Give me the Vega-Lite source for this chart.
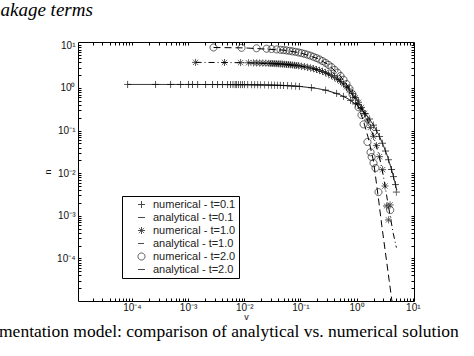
{
  "$schema": "https://vega.github.io/schema/vega-lite/v6.json",
  "width": 336,
  "height": 259,
  "autosize": "none",
  "padding": {"left": 78, "top": 42, "right": 60, "bottom": 55},
  "background": "white",
  "title": {"text": "mentation model: comparison of analytical vs. numerical solution", "orient": "bottom", "anchor": "start", "frame": "group", "dx": -79, "offset": 2, "font": "Liberation Serif", "fontSize": 17.5, "fontWeight": "normal", "color": "black", "baseline": "top"},
  "config": {
    "view": {"stroke": null},
    "axis": {"domainColor": "black", "tickColor": "black", "labelColor": "#111", "labelFont": "Liberation Sans", "labelFontSize": 10, "titleFont": "Liberation Sans", "titleFontSize": 9, "titleFontWeight": "normal", "titleColor": "#111", "grid": false, "tickSize": -3, "labelOverlap": false, "labelFlush": false},
    "legend": {"orient": "none", "legendX": 44, "legendY": 154, "padding": 3, "strokeColor": "black", "fillColor": "white", "symbolSize": 49, "symbolStrokeWidth": 1, "symbolStrokeColor": "black", "labelFont": "Liberation Sans", "labelFontSize": 11, "labelColor": "#222", "symbolOffset": 11, "labelOffset": 6, "rowPadding": 1}
  },
  "datasets": {
    "analytical": [
      {"v": 0.000084, "n": 1.21, "series": "analytical - t=0.1"},
      {"v": 0.001, "n": 1.2087, "series": "analytical - t=0.1"},
      {"v": 0.01, "n": 1.1968, "series": "analytical - t=0.1"},
      {"v": 0.05, "n": 1.145, "series": "analytical - t=0.1"},
      {"v": 0.1, "n": 1.084, "series": "analytical - t=0.1"},
      {"v": 0.2, "n": 0.971, "series": "analytical - t=0.1"},
      {"v": 0.3, "n": 0.87, "series": "analytical - t=0.1"},
      {"v": 0.5, "n": 0.698, "series": "analytical - t=0.1"},
      {"v": 0.7, "n": 0.56, "series": "analytical - t=0.1"},
      {"v": 1.0, "n": 0.403, "series": "analytical - t=0.1"},
      {"v": 1.3, "n": 0.2896, "series": "analytical - t=0.1"},
      {"v": 1.6, "n": 0.208, "series": "analytical - t=0.1"},
      {"v": 2.0, "n": 0.134, "series": "analytical - t=0.1"},
      {"v": 2.5, "n": 0.0774, "series": "analytical - t=0.1"},
      {"v": 3.0, "n": 0.0446, "series": "analytical - t=0.1"},
      {"v": 3.5, "n": 0.0258, "series": "analytical - t=0.1"},
      {"v": 4.0, "n": 0.01486, "series": "analytical - t=0.1"},
      {"v": 4.5, "n": 0.00857, "series": "analytical - t=0.1"},
      {"v": 5.0, "n": 0.00494, "series": "analytical - t=0.1"},
      {"v": 5.2, "n": 0.00397, "series": "analytical - t=0.1"},
      {"v": 0.00136, "n": 3.989, "series": "analytical - t=1.0"},
      {"v": 0.01, "n": 3.921, "series": "analytical - t=1.0"},
      {"v": 0.05, "n": 3.619, "series": "analytical - t=1.0"},
      {"v": 0.1, "n": 3.275, "series": "analytical - t=1.0"},
      {"v": 0.2, "n": 2.681, "series": "analytical - t=1.0"},
      {"v": 0.3, "n": 2.195, "series": "analytical - t=1.0"},
      {"v": 0.5, "n": 1.472, "series": "analytical - t=1.0"},
      {"v": 0.7, "n": 0.986, "series": "analytical - t=1.0"},
      {"v": 1.0, "n": 0.541, "series": "analytical - t=1.0"},
      {"v": 1.3, "n": 0.297, "series": "analytical - t=1.0"},
      {"v": 1.6, "n": 0.163, "series": "analytical - t=1.0"},
      {"v": 2.0, "n": 0.0733, "series": "analytical - t=1.0"},
      {"v": 2.5, "n": 0.027, "series": "analytical - t=1.0"},
      {"v": 3.0, "n": 0.0085, "series": "analytical - t=1.0"},
      {"v": 3.5, "n": 0.0025, "series": "analytical - t=1.0"},
      {"v": 4.0, "n": 0.0009, "series": "analytical - t=1.0"},
      {"v": 4.5, "n": 0.00038, "series": "analytical - t=1.0"},
      {"v": 5.1, "n": 0.00018, "series": "analytical - t=1.0"},
      {"v": 0.00284, "n": 8.92, "series": "analytical - t=2.0"},
      {"v": 0.01, "n": 8.73, "series": "analytical - t=2.0"},
      {"v": 0.05, "n": 7.75, "series": "analytical - t=2.0"},
      {"v": 0.1, "n": 6.67, "series": "analytical - t=2.0"},
      {"v": 0.2, "n": 4.94, "series": "analytical - t=2.0"},
      {"v": 0.3, "n": 3.66, "series": "analytical - t=2.0"},
      {"v": 0.5, "n": 2.0, "series": "analytical - t=2.0"},
      {"v": 0.7, "n": 1.1, "series": "analytical - t=2.0"},
      {"v": 1.0, "n": 0.448, "series": "analytical - t=2.0"},
      {"v": 1.3, "n": 0.18, "series": "analytical - t=2.0"},
      {"v": 1.6, "n": 0.07, "series": "analytical - t=2.0"},
      {"v": 2.0, "n": 0.019, "series": "analytical - t=2.0"},
      {"v": 2.45, "n": 0.0025, "series": "analytical - t=2.0"},
      {"v": 2.8, "n": 0.0006, "series": "analytical - t=2.0"},
      {"v": 3.3, "n": 0.00012, "series": "analytical - t=2.0"},
      {"v": 3.8, "n": 0.00003, "series": "analytical - t=2.0"},
      {"v": 4.25, "n": 0.00001, "series": "analytical - t=2.0"}
    ],
    "numerical": [
      {"v": 0.000084, "n": 1.21, "series": "numerical - t=0.1"},
      {"v": 0.000264, "n": 1.21, "series": "numerical - t=0.1"},
      {"v": 0.000489, "n": 1.209, "series": "numerical - t=0.1"},
      {"v": 0.000736, "n": 1.209, "series": "numerical - t=0.1"},
      {"v": 0.00102, "n": 1.209, "series": "numerical - t=0.1"},
      {"v": 0.0012, "n": 1.208, "series": "numerical - t=0.1"},
      {"v": 0.00148, "n": 1.208, "series": "numerical - t=0.1"},
      {"v": 0.00205, "n": 1.207, "series": "numerical - t=0.1"},
      {"v": 0.00273, "n": 1.206, "series": "numerical - t=0.1"},
      {"v": 0.00335, "n": 1.206, "series": "numerical - t=0.1"},
      {"v": 0.00411, "n": 1.205, "series": "numerical - t=0.1"},
      {"v": 0.00505, "n": 1.203, "series": "numerical - t=0.1"},
      {"v": 0.0057, "n": 1.202, "series": "numerical - t=0.1"},
      {"v": 0.0063, "n": 1.202, "series": "numerical - t=0.1"},
      {"v": 0.0069, "n": 1.201, "series": "numerical - t=0.1"},
      {"v": 0.0073, "n": 1.2, "series": "numerical - t=0.1"},
      {"v": 0.0079, "n": 1.1995, "series": "numerical - t=0.1"},
      {"v": 0.0086, "n": 1.1986, "series": "numerical - t=0.1"},
      {"v": 0.0093, "n": 1.1977, "series": "numerical - t=0.1"},
      {"v": 0.0101, "n": 1.197, "series": "numerical - t=0.1"},
      {"v": 0.0115, "n": 1.195, "series": "numerical - t=0.1"},
      {"v": 0.0135, "n": 1.192, "series": "numerical - t=0.1"},
      {"v": 0.0153, "n": 1.19, "series": "numerical - t=0.1"},
      {"v": 0.0173, "n": 1.187, "series": "numerical - t=0.1"},
      {"v": 0.0195, "n": 1.184, "series": "numerical - t=0.1"},
      {"v": 0.023, "n": 1.18, "series": "numerical - t=0.1"},
      {"v": 0.027, "n": 1.174, "series": "numerical - t=0.1"},
      {"v": 0.0306, "n": 1.17, "series": "numerical - t=0.1"},
      {"v": 0.0346, "n": 1.164, "series": "numerical - t=0.1"},
      {"v": 0.039, "n": 1.159, "series": "numerical - t=0.1"},
      {"v": 0.044, "n": 1.152, "series": "numerical - t=0.1"},
      {"v": 0.05, "n": 1.145, "series": "numerical - t=0.1"},
      {"v": 0.059, "n": 1.133, "series": "numerical - t=0.1"},
      {"v": 0.0695, "n": 1.119, "series": "numerical - t=0.1"},
      {"v": 0.082, "n": 1.103, "series": "numerical - t=0.1"},
      {"v": 0.096, "n": 1.085, "series": "numerical - t=0.1"},
      {"v": 0.157, "n": 1.018, "series": "numerical - t=0.1"},
      {"v": 0.28, "n": 0.889, "series": "numerical - t=0.1"},
      {"v": 0.44, "n": 0.746, "series": "numerical - t=0.1"},
      {"v": 0.585, "n": 0.636, "series": "numerical - t=0.1"},
      {"v": 0.78, "n": 0.513, "series": "numerical - t=0.1"},
      {"v": 0.955, "n": 0.423, "series": "numerical - t=0.1"},
      {"v": 1.17, "n": 0.334, "series": "numerical - t=0.1"},
      {"v": 1.44, "n": 0.248, "series": "numerical - t=0.1"},
      {"v": 1.7, "n": 0.187, "series": "numerical - t=0.1"},
      {"v": 2.0, "n": 0.134, "series": "numerical - t=0.1"},
      {"v": 2.26, "n": 0.1008, "series": "numerical - t=0.1"},
      {"v": 2.56, "n": 0.0724, "series": "numerical - t=0.1"},
      {"v": 2.89, "n": 0.0504, "series": "numerical - t=0.1"},
      {"v": 3.27, "n": 0.0331, "series": "numerical - t=0.1"},
      {"v": 3.7, "n": 0.0207, "series": "numerical - t=0.1"},
      {"v": 4.18, "n": 0.0122, "series": "numerical - t=0.1"},
      {"v": 4.53, "n": 0.0083, "series": "numerical - t=0.1"},
      {"v": 4.92, "n": 0.0054, "series": "numerical - t=0.1"},
      {"v": 5.1, "n": 0.0036, "series": "numerical - t=0.1"},
      {"v": 0.00136, "n": 3.989, "series": "numerical - t=1.0"},
      {"v": 0.00445, "n": 3.964, "series": "numerical - t=1.0"},
      {"v": 0.0086, "n": 3.932, "series": "numerical - t=1.0"},
      {"v": 0.0119, "n": 3.905, "series": "numerical - t=1.0"},
      {"v": 0.0146, "n": 3.884, "series": "numerical - t=1.0"},
      {"v": 0.0166, "n": 3.869, "series": "numerical - t=1.0"},
      {"v": 0.0188, "n": 3.853, "series": "numerical - t=1.0"},
      {"v": 0.0214, "n": 3.834, "series": "numerical - t=1.0"},
      {"v": 0.0242, "n": 3.812, "series": "numerical - t=1.0"},
      {"v": 0.0274, "n": 3.787, "series": "numerical - t=1.0"},
      {"v": 0.0297, "n": 3.77, "series": "numerical - t=1.0"},
      {"v": 0.0322, "n": 3.751, "series": "numerical - t=1.0"},
      {"v": 0.0349, "n": 3.732, "series": "numerical - t=1.0"},
      {"v": 0.0378, "n": 3.71, "series": "numerical - t=1.0"},
      {"v": 0.041, "n": 3.685, "series": "numerical - t=1.0"},
      {"v": 0.0444, "n": 3.66, "series": "numerical - t=1.0"},
      {"v": 0.0481, "n": 3.633, "series": "numerical - t=1.0"},
      {"v": 0.0522, "n": 3.603, "series": "numerical - t=1.0"},
      {"v": 0.0565, "n": 3.573, "series": "numerical - t=1.0"},
      {"v": 0.0612, "n": 3.539, "series": "numerical - t=1.0"},
      {"v": 0.0664, "n": 3.502, "series": "numerical - t=1.0"},
      {"v": 0.0719, "n": 3.464, "series": "numerical - t=1.0"},
      {"v": 0.0785, "n": 3.418, "series": "numerical - t=1.0"},
      {"v": 0.0845, "n": 3.378, "series": "numerical - t=1.0"},
      {"v": 0.0925, "n": 3.324, "series": "numerical - t=1.0"},
      {"v": 0.1046, "n": 3.245, "series": "numerical - t=1.0"},
      {"v": 0.1183, "n": 3.157, "series": "numerical - t=1.0"},
      {"v": 0.1337, "n": 3.062, "series": "numerical - t=1.0"},
      {"v": 0.1512, "n": 2.956, "series": "numerical - t=1.0"},
      {"v": 0.171, "n": 2.841, "series": "numerical - t=1.0"},
      {"v": 0.1934, "n": 2.717, "series": "numerical - t=1.0"},
      {"v": 0.2187, "n": 2.583, "series": "numerical - t=1.0"},
      {"v": 0.2473, "n": 2.439, "series": "numerical - t=1.0"},
      {"v": 0.2797, "n": 2.286, "series": "numerical - t=1.0"},
      {"v": 0.3162, "n": 2.125, "series": "numerical - t=1.0"},
      {"v": 0.3576, "n": 1.956, "series": "numerical - t=1.0"},
      {"v": 0.4044, "n": 1.782, "series": "numerical - t=1.0"},
      {"v": 0.4571, "n": 1.604, "series": "numerical - t=1.0"},
      {"v": 0.5169, "n": 1.423, "series": "numerical - t=1.0"},
      {"v": 0.5844, "n": 1.243, "series": "numerical - t=1.0"},
      {"v": 0.661, "n": 1.066, "series": "numerical - t=1.0"},
      {"v": 0.747, "n": 0.898, "series": "numerical - t=1.0"},
      {"v": 0.845, "n": 0.738, "series": "numerical - t=1.0"},
      {"v": 0.956, "n": 0.591, "series": "numerical - t=1.0"},
      {"v": 1.08, "n": 0.461, "series": "numerical - t=1.0"},
      {"v": 1.22, "n": 0.349, "series": "numerical - t=1.0"},
      {"v": 1.38, "n": 0.253, "series": "numerical - t=1.0"},
      {"v": 1.56, "n": 0.177, "series": "numerical - t=1.0"},
      {"v": 1.76, "n": 0.1185, "series": "numerical - t=1.0"},
      {"v": 2.0, "n": 0.0733, "series": "numerical - t=1.0"},
      {"v": 2.25, "n": 0.0444, "series": "numerical - t=1.0"},
      {"v": 2.55, "n": 0.0244, "series": "numerical - t=1.0"},
      {"v": 2.9, "n": 0.0121, "series": "numerical - t=1.0"},
      {"v": 3.2, "n": 0.005, "series": "numerical - t=1.0"},
      {"v": 3.4, "n": 0.0017, "series": "numerical - t=1.0"},
      {"v": 3.7, "n": 0.0008, "series": "numerical - t=1.0"},
      {"v": 3.95, "n": 0.0018, "series": "numerical - t=1.0"},
      {"v": 0.00284, "n": 8.92, "series": "numerical - t=2.0"},
      {"v": 0.00895, "n": 8.76, "series": "numerical - t=2.0"},
      {"v": 0.01656, "n": 8.56, "series": "numerical - t=2.0"},
      {"v": 0.02494, "n": 8.35, "series": "numerical - t=2.0"},
      {"v": 0.0306, "n": 8.21, "series": "numerical - t=2.0"},
      {"v": 0.0376, "n": 8.04, "series": "numerical - t=2.0"},
      {"v": 0.0442, "n": 7.88, "series": "numerical - t=2.0"},
      {"v": 0.05, "n": 7.75, "series": "numerical - t=2.0"},
      {"v": 0.0565, "n": 7.6, "series": "numerical - t=2.0"},
      {"v": 0.064, "n": 7.43, "series": "numerical - t=2.0"},
      {"v": 0.0719, "n": 7.25, "series": "numerical - t=2.0"},
      {"v": 0.0815, "n": 7.05, "series": "numerical - t=2.0"},
      {"v": 0.0925, "n": 6.82, "series": "numerical - t=2.0"},
      {"v": 0.1046, "n": 6.58, "series": "numerical - t=2.0"},
      {"v": 0.1183, "n": 6.31, "series": "numerical - t=2.0"},
      {"v": 0.1337, "n": 6.03, "series": "numerical - t=2.0"},
      {"v": 0.1512, "n": 5.72, "series": "numerical - t=2.0"},
      {"v": 0.171, "n": 5.39, "series": "numerical - t=2.0"},
      {"v": 0.1934, "n": 5.04, "series": "numerical - t=2.0"},
      {"v": 0.2187, "n": 4.67, "series": "numerical - t=2.0"},
      {"v": 0.2473, "n": 4.29, "series": "numerical - t=2.0"},
      {"v": 0.2797, "n": 3.89, "series": "numerical - t=2.0"},
      {"v": 0.3162, "n": 3.49, "series": "numerical - t=2.0"},
      {"v": 0.3576, "n": 3.08, "series": "numerical - t=2.0"},
      {"v": 0.4044, "n": 2.67, "series": "numerical - t=2.0"},
      {"v": 0.4571, "n": 2.29, "series": "numerical - t=2.0"},
      {"v": 0.5169, "n": 1.91, "series": "numerical - t=2.0"},
      {"v": 0.5844, "n": 1.56, "series": "numerical - t=2.0"},
      {"v": 0.661, "n": 1.24, "series": "numerical - t=2.0"},
      {"v": 0.747, "n": 0.958, "series": "numerical - t=2.0"},
      {"v": 0.845, "n": 0.714, "series": "numerical - t=2.0"},
      {"v": 0.956, "n": 0.511, "series": "numerical - t=2.0"},
      {"v": 1.08, "n": 0.353, "series": "numerical - t=2.0"},
      {"v": 1.22, "n": 0.232, "series": "numerical - t=2.0"},
      {"v": 1.33, "n": 0.14, "series": "numerical - t=2.0"},
      {"v": 1.56, "n": 0.054, "series": "numerical - t=2.0"},
      {"v": 1.77, "n": 0.031, "series": "numerical - t=2.0"},
      {"v": 1.85, "n": 0.024, "series": "numerical - t=2.0"},
      {"v": 2.0, "n": 0.0173, "series": "numerical - t=2.0"},
      {"v": 2.17, "n": 0.0132, "series": "numerical - t=2.0"},
      {"v": 2.45, "n": 0.0036, "series": "numerical - t=2.0"},
      {"v": 3.96, "n": 0.00136, "series": "numerical - t=2.0"}
    ]
  },
  "layer": [
    {
      "data": {"name": "analytical"},
      "mark": {"type": "line", "color": "black", "strokeWidth": 1, "clip": true},
      "encoding": {
        "x": {"field": "v", "type": "quantitative", "scale": {"type": "log", "domain": [0.000011, 10.5], "nice": false},
          "axis": {"orient": "bottom", "title": "v", "titlePadding": 0,
            "values": [0.00002,0.00003,0.00004,0.00005,0.00006,0.00007,0.00008,0.00009,0.0001,0.0002,0.0003,0.0004,0.0005,0.0006,0.0007,0.0008,0.0009,0.001,0.002,0.003,0.004,0.005,0.006,0.007,0.008,0.009,0.01,0.02,0.03,0.04,0.05,0.06,0.07,0.08,0.09,0.1,0.2,0.3,0.4,0.5,0.6,0.7,0.8,0.9,1,2,3,4,5,6,7,8,9,10],
            "labelExpr": "datum.value == 0.0001 ? '10⁻⁴' : datum.value == 0.001 ? '10⁻³' : datum.value == 0.01 ? '10⁻²' : datum.value == 0.1 ? '10⁻¹' : datum.value == 1 ? '10⁰' : datum.value == 10 ? '10¹' : ''",
            "labelPadding": 4}},
        "y": {"field": "n", "type": "quantitative", "scale": {"type": "log", "domain": [0.00001, 12], "nice": false},
          "axis": {"orient": "left", "title": "n", "titlePadding": 4,
            "values": [0.00002,0.00003,0.00004,0.00005,0.00006,0.00007,0.00008,0.00009,0.0001,0.0002,0.0003,0.0004,0.0005,0.0006,0.0007,0.0008,0.0009,0.001,0.002,0.003,0.004,0.005,0.006,0.007,0.008,0.009,0.01,0.02,0.03,0.04,0.05,0.06,0.07,0.08,0.09,0.1,0.2,0.3,0.4,0.5,0.6,0.7,0.8,0.9,1,2,3,4,5,6,7,8,9,10],
            "labelExpr": "datum.value == 0.0001 ? '10⁻⁴' : datum.value == 0.001 ? '10⁻³' : datum.value == 0.01 ? '10⁻²' : datum.value == 0.1 ? '10⁻¹' : datum.value == 1 ? '10⁰' : datum.value == 10 ? '10¹' : ''",
            "labelPadding": 6}},
        "strokeDash": {"field": "series", "type": "nominal",
          "scale": {"domain": ["numerical - t=0.1", "analytical - t=0.1", "numerical - t=1.0", "analytical - t=1.0", "numerical - t=2.0", "analytical - t=2.0"],
            "range": [[1, 0], [1, 0], [1, 0], [6, 3, 1, 3], [1, 0], [7, 4]]},
          "legend": {"title": null, "orient": "none", "legendX": 44, "legendY": 154}}
      }
    },
    {
      "data": {"name": "numerical"},
      "mark": {"type": "point", "filled": false, "color": "black", "strokeWidth": 1, "size": 49, "clip": true},
      "encoding": {
        "x": {"field": "v", "type": "quantitative", "scale": {"type": "log", "domain": [0.000011, 10.5], "nice": false},
          "axis": {"orient": "top", "labels": false,
            "values": [0.00002,0.00003,0.00004,0.00005,0.00006,0.00007,0.00008,0.00009,0.0001,0.0002,0.0003,0.0004,0.0005,0.0006,0.0007,0.0008,0.0009,0.001,0.002,0.003,0.004,0.005,0.006,0.007,0.008,0.009,0.01,0.02,0.03,0.04,0.05,0.06,0.07,0.08,0.09,0.1,0.2,0.3,0.4,0.5,0.6,0.7,0.8,0.9,1,2,3,4,5,6,7,8,9,10],
            "title": "akage terms", "titleX": -78, "titleY": -42, "titleAlign": "left", "titleAngle": 0, "titleBaseline": "top",
            "titleFont": "Liberation Serif", "titleFontStyle": "italic", "titleFontSize": 19, "titleColor": "black"}},
        "y": {"field": "n", "type": "quantitative", "scale": {"type": "log", "domain": [0.00001, 12], "nice": false},
          "axis": {"orient": "right", "labels": false, "title": null,
            "values": [0.00002,0.00003,0.00004,0.00005,0.00006,0.00007,0.00008,0.00009,0.0001,0.0002,0.0003,0.0004,0.0005,0.0006,0.0007,0.0008,0.0009,0.001,0.002,0.003,0.004,0.005,0.006,0.007,0.008,0.009,0.01,0.02,0.03,0.04,0.05,0.06,0.07,0.08,0.09,0.1,0.2,0.3,0.4,0.5,0.6,0.7,0.8,0.9,1,2,3,4,5,6,7,8,9,10]}},
        "shape": {"field": "series", "type": "nominal",
          "scale": {"domain": ["numerical - t=0.1", "analytical - t=0.1", "numerical - t=1.0", "analytical - t=1.0", "numerical - t=2.0", "analytical - t=2.0"],
            "range": ["M-1,0L1,0M0,-1L0,1", "stroke", "M-1,0L1,0M0,-1L0,1M-0.75,-0.75L0.75,0.75M-0.75,0.75L0.75,-0.75", "stroke", "circle", "stroke"]},
          "legend": {"title": null, "orient": "none", "legendX": 44, "legendY": 154}},
        "strokeDash": {"field": "series", "type": "nominal",
          "scale": {"domain": ["numerical - t=0.1", "analytical - t=0.1", "numerical - t=1.0", "analytical - t=1.0", "numerical - t=2.0", "analytical - t=2.0"],
            "range": [[1, 0], [1, 0], [1, 0], [6, 3, 1, 3], [1, 0], [7, 4]]},
          "legend": {"title": null, "orient": "none", "legendX": 44, "legendY": 154}}
      }
    }
  ],
  "resolve": {"axis": {"x": "independent", "y": "independent"}}
}
